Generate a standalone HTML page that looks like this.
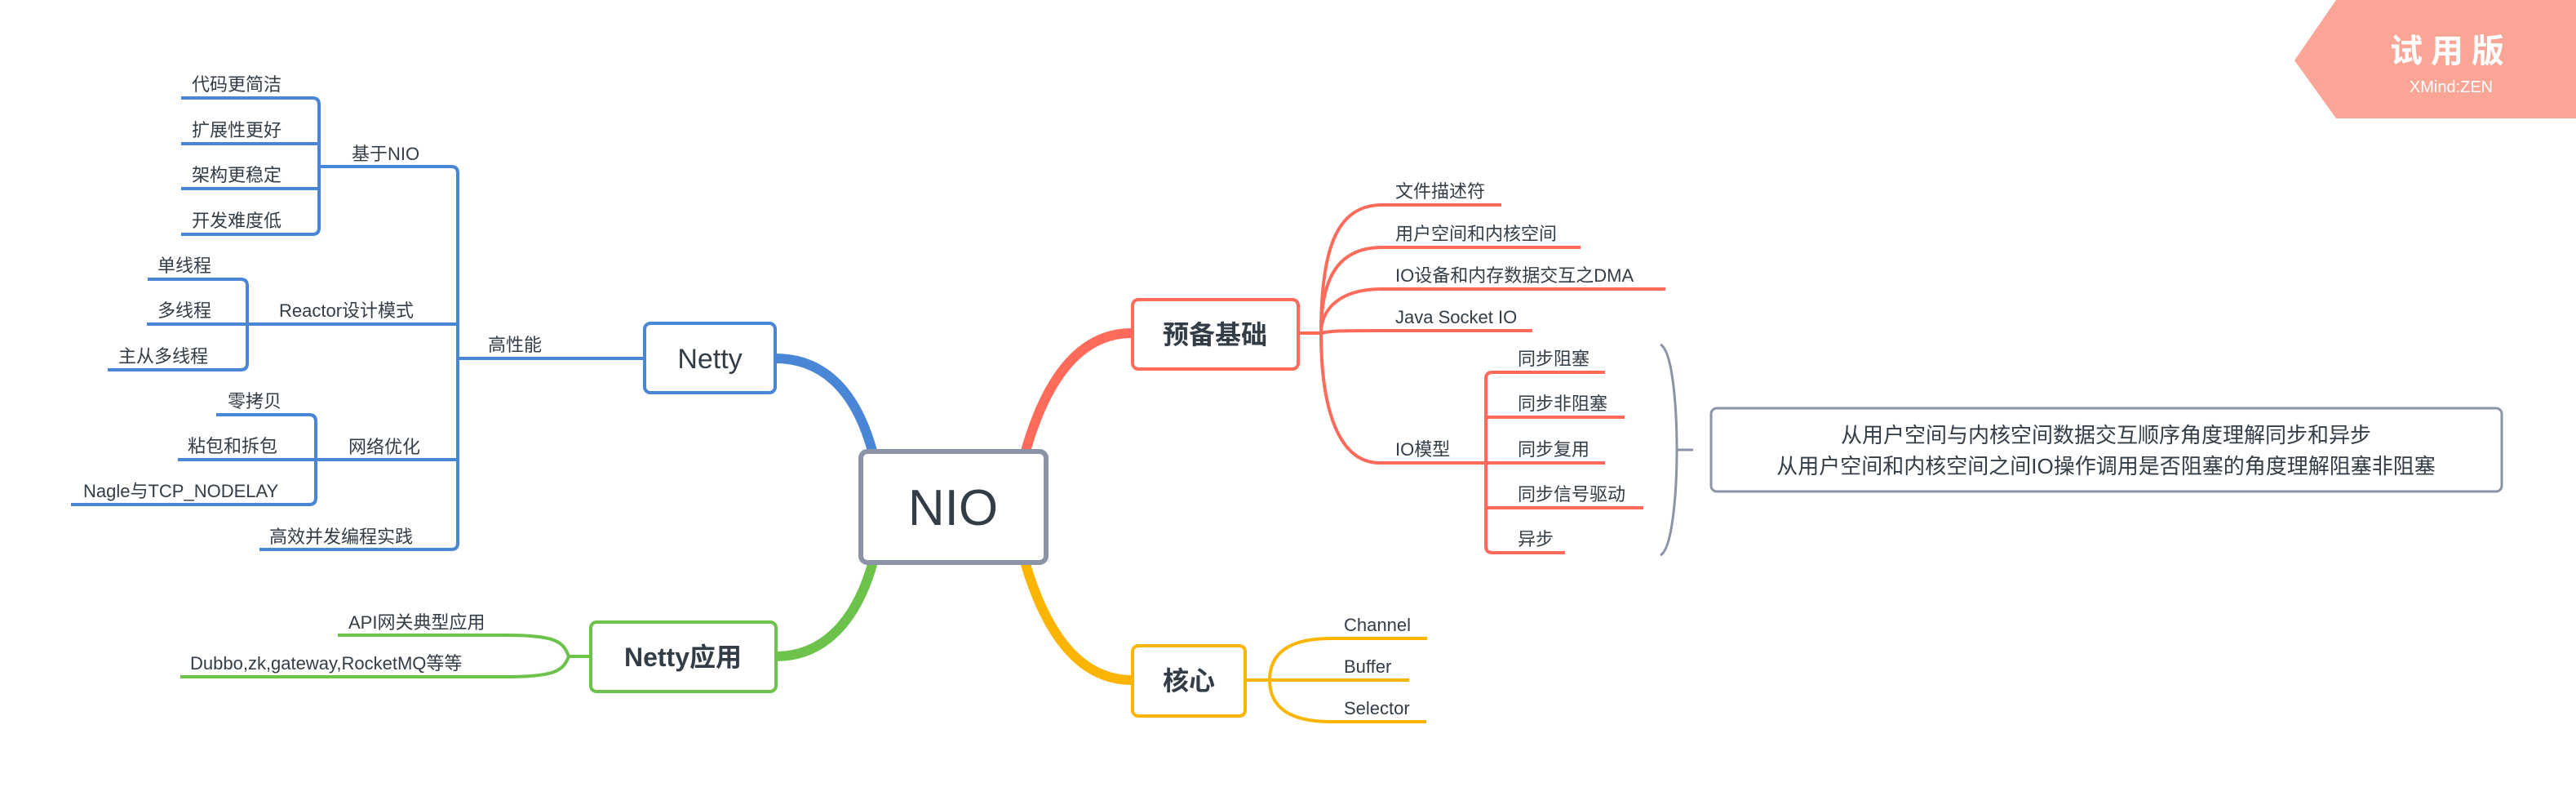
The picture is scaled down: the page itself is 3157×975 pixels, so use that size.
<!DOCTYPE html>
<html><head><meta charset="utf-8"><style>
html,body{margin:0;padding:0;background:#fff;}
svg{display:block;}
text{font-family:"Liberation Sans","Noto Sans CJK SC",sans-serif;fill:#333d47;}
</style></head><body>
<svg width="3157" height="975" viewBox="0 0 3157 975" xmlns="http://www.w3.org/2000/svg">
<!-- watermark -->
<polygon points="2863,0 3157,0 3157,145 2863,145 2812,74" fill="#fba596"/>
<text x="3004" y="76" text-anchor="middle" font-size="40" font-weight="bold" style="fill:#fff" letter-spacing="10">试用版</text>
<text x="3004" y="113" text-anchor="middle" font-size="20" style="fill:#fff">XMind:ZEN</text>

<!-- main curves -->
<path d="M1070,556 C1050,480 1010,439 950,439" fill="none" stroke="#4a86d6" stroke-width="12"/>
<path d="M1070,688 C1050,760 1010,804 951,804" fill="none" stroke="#6cc24a" stroke-width="12"/>
<path d="M1256,556 C1280,470 1320,408 1387,408" fill="none" stroke="#ff6b5a" stroke-width="12"/>
<path d="M1256,688 C1280,770 1320,833 1387,833" fill="none" stroke="#fbb400" stroke-width="12"/>

<!-- boxes -->
<rect x="1055" y="553" width="227" height="136" rx="8" fill="#fff" stroke="#8a94a6" stroke-width="6"/>
<text x="1168" y="643" text-anchor="middle" font-size="62">NIO</text>
<rect x="790" y="396" width="160" height="85" rx="7" fill="#fff" stroke="#4a86d6" stroke-width="4"/>
<text x="870" y="451" text-anchor="middle" font-size="34">Netty</text>
<rect x="724" y="762" width="227" height="85" rx="7" fill="#fff" stroke="#6cc24a" stroke-width="4"/>
<text x="837" y="816" text-anchor="middle" font-size="32" font-weight="bold">Netty应用</text>
<rect x="1388" y="367" width="203" height="85" rx="7" fill="#fff" stroke="#ff6b5a" stroke-width="4"/>
<text x="1489" y="421" text-anchor="middle" font-size="32" font-weight="bold">预备基础</text>
<rect x="1388" y="791" width="138" height="86" rx="7" fill="#fff" stroke="#fbb400" stroke-width="4"/>
<text x="1457" y="845" text-anchor="middle" font-size="32" font-weight="bold">核心</text>

<!-- Netty left tree -->
<g fill="none" stroke="#4a86d6" stroke-width="4">
<path d="M790,439 H561"/>
<path d="M395,204 H553 Q561,204 561,212 V665 Q561,673 553,673 H318"/>
<path d="M180,397 H561"/>
<path d="M218,563 H561"/>
<path d="M222,120 H383 Q391,120 391,128 V279 Q391,287 383,287 H222"/>
<path d="M222,176 H391 M222,231 H391 M391,204 H395"/>
<path d="M181,342 H295 Q303,342 303,350 V445 Q303,453 295,453 H132"/>
<path d="M265,508 H379 Q387,508 387,516 V610 Q387,618 379,618 H87"/>
</g>
<g font-size="22">
<text x="598" y="430">高性能</text>
<text x="431" y="196">基于NIO</text>
<text x="342" y="388">Reactor设计模式</text>
<text x="427" y="555">网络优化</text>
<text x="330" y="665">高效并发编程实践</text>
<text x="235" y="111">代码更简洁</text>
<text x="235" y="167">扩展性更好</text>
<text x="235" y="222">架构更稳定</text>
<text x="235" y="278">开发难度低</text>
<text x="193" y="333">单线程</text>
<text x="193" y="388">多线程</text>
<text x="145" y="444">主从多线程</text>
<text x="279" y="499">零拷贝</text>
<text x="230" y="554">粘包和拆包</text>
<text x="102" y="609">Nagle与TCP_NODELAY</text>
</g>

<!-- Netty应用 children -->
<g fill="none" stroke="#6cc24a" stroke-width="4">
<path d="M724,804 H697 C690,785 680,778 619,778 H414"/>
<path d="M697,804 C690,822 680,829 619,829 H221"/>
</g>
<g font-size="22">
<text x="427" y="770">API网关典型应用</text>
<text x="233" y="820">Dubbo,zk,gateway,RocketMQ等等</text>
</g>

<!-- 预备基础 children -->
<g fill="none" stroke="#ff6b5a" stroke-width="4">
<path d="M1591,408 H1619"/>
<path d="M1619,408 C1619,300 1640,251 1694,251 H1840"/>
<path d="M1619,408 C1619,340 1640,303 1694,303 H1937"/>
<path d="M1619,408 C1619,380 1640,354 1694,354 H2041"/>
<path d="M1619,408 C1630,405 1650,405 1694,405 H1878"/>
<path d="M1619,408 C1619,500 1640,567 1691,567 H1821"/>
<path d="M1967,456 H1829 Q1821,456 1821,464 V669 Q1821,677 1829,677 H1918"/>
<path d="M1821,511 H1991 M1821,567 H1967 M1821,622 H2014"/>
</g>
<g font-size="22">
<text x="1710" y="242">文件描述符</text>
<text x="1710" y="294">用户空间和内核空间</text>
<text x="1710" y="345">IO设备和内存数据交互之DMA</text>
<text x="1710" y="396">Java Socket IO</text>
<text x="1710" y="558">IO模型</text>
<text x="1860" y="447">同步阻塞</text>
<text x="1860" y="502">同步非阻塞</text>
<text x="1860" y="558">同步复用</text>
<text x="1860" y="613">同步信号驱动</text>
<text x="1860" y="668">异步</text>
</g>

<!-- brace & note -->
<path d="M2035,422 C2050,430 2055,500 2055,551 C2055,600 2050,672 2035,680 M2055,551 H2075" fill="none" stroke="#8a94a6" stroke-width="3"/>
<rect x="2097" y="500" width="969" height="102" rx="7" fill="#fff" stroke="#8a94a6" stroke-width="3"/>
<g font-size="26" text-anchor="middle">
<text x="2581" y="542">从用户空间与内核空间数据交互顺序角度理解同步和异步</text>
<text x="2581" y="580">从用户空间和内核空间之间IO操作调用是否阻塞的角度理解阻塞非阻塞</text>
</g>

<!-- 核心 children -->
<g fill="none" stroke="#fbb400" stroke-width="4">
<path d="M1526,833 H1556"/>
<path d="M1556,833 C1556,800 1580,782 1631,782 H1749"/>
<path d="M1556,833 H1727"/>
<path d="M1556,833 C1556,866 1580,884 1631,884 H1748"/>
</g>
<g font-size="22">
<text x="1647" y="773">Channel</text>
<text x="1647" y="824">Buffer</text>
<text x="1647" y="875">Selector</text>
</g>
</svg>
</body></html>
